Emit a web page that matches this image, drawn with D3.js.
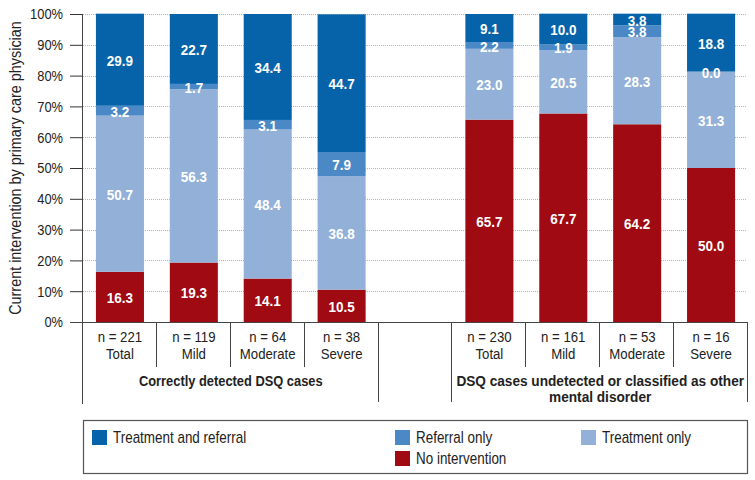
<!DOCTYPE html>
<html>
<head>
<meta charset="utf-8">
<script src="https://cdn.jsdelivr.net/npm/d3@7"></script>
<style>
  html, body { margin: 0; padding: 0; background: #fff; }
  svg { display: block; }
  text { font-family: "Liberation Sans", Arial, sans-serif; }
</style>
</head>
<body>
<svg id="chart" width="755" height="480"></svg>
<script>
// ---- Data ----
const slotKeys = ["c_total", "c_mild", "c_moderate", "c_severe", "gap", "u_total", "u_mild", "u_moderate", "u_severe"];
const barKeys = ["c_total", "c_mild", "c_moderate", "c_severe", "u_total", "u_mild", "u_moderate", "u_severe"];
const categoryLabels = ["Total", "Mild", "Moderate", "Severe", "Total", "Mild", "Moderate", "Severe"];
const nLabels = ["n = 221", "n = 119", "n = 64", "n = 38", "n = 230", "n = 161", "n = 53", "n = 16"];
const groupLabels = [["Correctly detected DSQ cases"], ["DSQ cases undetected or classified as other", "mental disorder"]];
const seriesNames = ["No intervention", "Treatment only", "Referral only", "Treatment and referral"];
const noIntervention      = [16.3, 19.3, 14.1, 10.5, 65.7, 67.7, 64.2, 50.0];
const treatmentOnly       = [50.7, 56.3, 48.4, 36.8, 23.0, 20.5, 28.3, 31.3];
const referralOnly        = [3.2, 1.7, 3.1, 7.9, 2.2, 1.9, 3.8, 0.0];
const treatmentReferral   = [29.9, 22.7, 34.4, 44.7, 9.1, 10.0, 3.8, 18.8];
const yTicks = [0, 10, 20, 30, 40, 50, 60, 70, 80, 90, 100];
const yTitle = "Current intervention by primary care physician";
const colors = ["#a00a12", "#93b1d8", "#4b88c6", "#0663a9"];
const legendOrder = [3, 2, 1, 0]; // Treatment and referral, Referral only, Treatment only, No intervention

// ---- Build table ----
const seriesValues = [noIntervention, treatmentOnly, referralOnly, treatmentReferral];
const table = barKeys.map((k, i) => {
  const row = { key: k };
  seriesNames.forEach((s, j) => row[s] = seriesValues[j][i]);
  return row;
});
const stacked = d3.stack().keys(seriesNames)(table);

const svg = d3.select("#chart");
const plotLeft = 83, plotRight = 748, plotTop = 14, plotBottom = 322;

const x = d3.scaleBand().domain(slotKeys).range([plotLeft, plotRight]).paddingInner(0.35).paddingOuter(0.175);
const y = d3.scaleLinear().domain([0, 100]).range([plotBottom, plotTop]);
const step = x.step();

// Gridlines
svg.append("g").selectAll("line").data(yTicks.filter(d => d > 0)).join("line")
  .attr("x1", plotLeft).attr("x2", plotRight - 1)
  .attr("y1", d => Math.round(y(d)) + 0.5).attr("y2", d => Math.round(y(d)) + 0.5)
  .attr("stroke", "#b5b5b5").attr("stroke-width", 1).attr("stroke-dasharray", "1,1");

// Bars
const layers = svg.append("g").selectAll("g").data(stacked).join("g")
  .attr("fill", (d, i) => colors[i]);
layers.selectAll("rect").data(d => d).join("rect")
  .attr("x", d => x(d.data.key))
  .attr("width", x.bandwidth())
  .attr("y", d => y(d[1]))
  .attr("height", d => y(d[0]) - y(d[1]));

// Value labels
const labelG = svg.append("g");
stacked.forEach((layer, si) => {
  labelG.selectAll(null).data(layer).join("text")
    .attr("data-cond", 0.93)
    .attr("x", d => x(d.data.key) + x.bandwidth() / 2)
    .attr("y", d => y((d[0] + d[1]) / 2))
    .attr("dy", "0.42em")
    .attr("text-anchor", "middle")
    .attr("fill", "#fff")
    .attr("font-size", 14.5)
    .attr("font-weight", "bold")
    .text(d => d.data[layer.key].toFixed(1));
});

// Y axis
const yAxis = d3.axisLeft(y).tickValues(yTicks).tickFormat(d => d + "%").tickSize(13).tickPadding(7);
const ya = svg.append("g").attr("transform", `translate(${plotLeft},0)`).call(yAxis);
ya.select(".domain").remove();
ya.selectAll(".tick line").attr("stroke", "#333");
ya.selectAll(".tick text").attr("font-size", 15.5).attr("fill", "#222").attr("data-cond", 0.83)
  .style("font-family", "'Liberation Sans', Arial, sans-serif");

// Axis lines and category table
const lineG = svg.append("g").attr("stroke", "#444").attr("stroke-width", 1);
lineG.append("line").attr("x1", plotLeft - 0.5).attr("x2", plotLeft - 0.5).attr("y1", plotTop).attr("y2", 404);
lineG.append("line").attr("x1", plotLeft - 13).attr("x2", plotRight).attr("y1", plotBottom + 0.5).attr("y2", plotBottom + 0.5);
slotKeys.forEach((k, i) => {
  if (i === 0) return;
  const bx = Math.round(x(k) - step * x.paddingInner() / 2) - 0.5;
  const long = (k === "gap" || k === "u_total");
  lineG.append("line").attr("x1", bx).attr("x2", bx).attr("y1", plotBottom).attr("y2", long ? 402 : 367);
});
lineG.append("line").attr("x1", plotRight - 0.5).attr("x2", plotRight - 0.5).attr("y1", plotBottom).attr("y2", 402);

// Category labels
const catG = svg.append("g").attr("font-size", 15).attr("fill", "#222").attr("text-anchor", "middle");
barKeys.forEach((k, i) => {
  const cx = x(k) + x.bandwidth() / 2;
  catG.append("text").attr("data-cond", 0.88).attr("x", cx).attr("y", 342).text(nLabels[i]);
  catG.append("text").attr("data-cond", 0.88).attr("x", cx).attr("y", 359).text(categoryLabels[i]);
});

// Group labels
const groupSpans = [["c_total", "c_severe"], ["u_total", "u_severe"]];
const groupCond = [0.83, 0.88];
groupSpans.forEach((span, gi) => {
  const x0 = x(span[0]) - step * x.paddingInner() / 2;
  const x1 = x(span[1]) + x.bandwidth() + step * x.paddingInner() / 2;
  groupLabels[gi].forEach((t, li) => {
    svg.append("text").attr("data-cond", groupCond[gi]).attr("x", (x0 + x1) / 2).attr("y", 386 + li * 16)
      .attr("text-anchor", "middle").attr("font-size", 15.5).attr("font-weight", "bold")
      .attr("fill", "#222").text(t);
  });
});

// Y title
svg.append("text").attr("data-cond", 0.9)
  .attr("transform", `translate(21,${(plotTop + plotBottom) / 2}) rotate(-90)`)
  .attr("text-anchor", "middle").attr("font-size", 16).attr("fill", "#222")
  .text(yTitle);

// Legend
svg.append("rect").attr("x", 83.5).attr("y", 420.5).attr("width", 664).attr("height", 53)
  .attr("fill", "none").attr("stroke", "#555").attr("stroke-width", 1.2);
const legendPos = [[92, 430], [395, 430], [581, 430], [395, 451]];
legendOrder.forEach((si, i) => {
  const [lx, ly] = legendPos[i];
  svg.append("rect").attr("x", lx).attr("y", ly).attr("width", 15).attr("height", 15).attr("fill", colors[si]);
  svg.append("text").attr("data-cond", 0.84).attr("x", lx + 21).attr("y", ly + 13).attr("font-size", 16).attr("fill", "#222")
    .text(seriesNames[si]);
});

// Condense text horizontally (mimic a condensed typeface) with a scale about its anchor point
svg.selectAll("text").each(function () {
  const f = +this.getAttribute("data-cond");
  if (!f) return;
  const existing = this.getAttribute("transform") || "";
  const ax = +this.getAttribute("x") || 0;
  const ay = +this.getAttribute("y") || 0;
  this.setAttribute("transform",
    `${existing} translate(${ax},${ay}) scale(${f},1) translate(${-ax},${-ay})`.trim());
});
</script>
</body>
</html>
